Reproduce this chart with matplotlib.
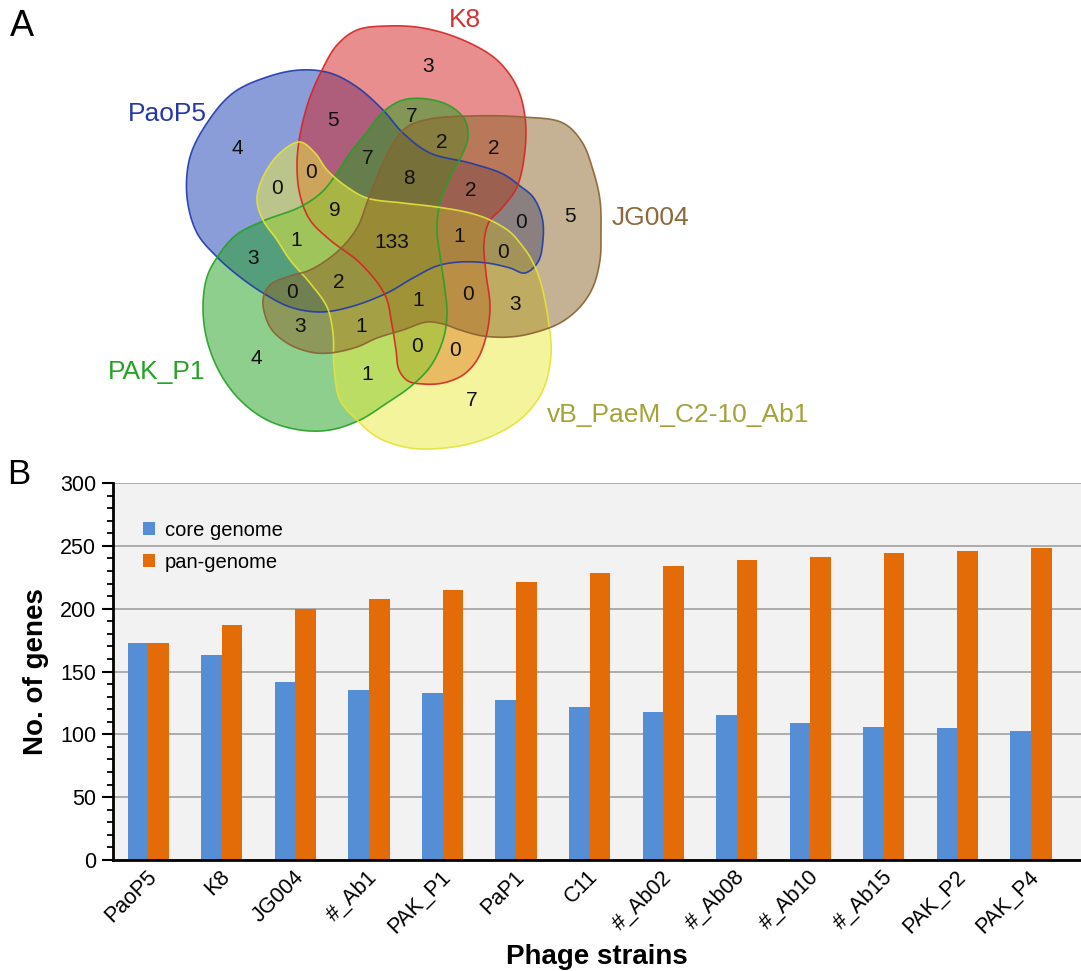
import numpy as np
import matplotlib
matplotlib.use("Agg")
import matplotlib.pyplot as plt
from matplotlib.patches import Polygon
from matplotlib.transforms import ScaledTranslation

plt.rcParams['font.family'] = ['Liberation Sans', 'DejaVu Sans']

# ---- data: panel B ----
strains = ['PaoP5', 'K8', 'JG004', '#_Ab1', 'PAK_P1', 'PaP1', 'C11',
           '#_Ab02', '#_Ab08', '#_Ab10', '#_Ab15', 'PAK_P2', 'PAK_P4']
core = [173, 163, 142, 135, 133, 127, 122, 118, 115, 109, 106, 105, 103]
pan = [173, 187, 200, 208, 215, 221, 228, 234, 239, 241, 244, 246, 248]

# ---- data: panel A (region counts) ----
set_names = ['PaoP5', 'K8', 'PAK_P1', 'vB_PaeM_C2-10_Ab1', 'JG004']
counts = [4, 3, 5, 4, 7,
          5, 7, 2, 2, 7, 8, 2, 0,
          0, 0, 9, 1, 3, 133, 1, 0,
          2, 0, 3, 1, 1, 0, 3,
          0, 0, 1]

# layout of panel A in pixel coordinates (outline knots, label spots)
count_xy = [(237, 148), (428, 66), (570, 217), (256, 358), (472, 400),
            (333, 120), (412, 116), (442, 143), (494, 148), (368, 158), (409, 178), (471, 190), (521, 223),
            (277, 189), (311, 173), (335, 211), (296, 241), (253, 258), (392, 243), (459, 237), (503, 253),
            (339, 283), (292, 293), (300, 327), (361, 327), (418, 301), (468, 294), (515, 304),
            (417, 347), (455, 351), (367, 375)]

outlines = {
    'PaoP5': [(300, 70), (267, 77), (233, 93), (207, 123), (190, 157), (187, 197), (197, 233), (217, 257),
              (240, 277), (263, 293), (290, 307), (320, 312), (350, 307), (387, 293), (413, 278), (437, 266),
              (460, 262), (487, 263), (510, 268), (525, 273), (538, 262), (543, 240), (542, 217), (533, 197),
              (520, 186), (503, 174), (470, 163), (430, 153), (403, 133), (383, 110), (357, 87), (330, 73)],
    'K8': [(357, 30), (387, 26), (423, 28), (463, 40), (497, 60), (517, 87), (525, 117), (525, 150),
           (517, 187), (502, 208), (489, 222), (484, 243), (486, 273), (490, 307), (486, 337), (477, 360),
           (463, 375), (443, 383), (423, 384), (408, 381), (399, 370), (396, 350), (392, 325), (385, 295),
           (360, 263), (330, 240), (310, 220), (300, 195), (297, 165), (300, 135), (309, 100), (322, 70),
           (337, 45)],
    'PAK_P1': [(203, 307), (207, 277), (218, 256), (236, 235), (263, 221), (300, 207), (322, 192), (337, 173),
               (350, 153), (367, 132), (383, 112), (403, 100), (427, 99), (450, 106), (465, 120), (468, 137),
               (462, 155), (450, 177), (440, 203), (437, 230), (441, 262), (445, 290), (447, 315), (443, 340),
               (430, 367), (410, 387), (387, 403), (360, 420), (330, 430), (300, 430), (267, 420), (240, 400),
               (220, 373), (207, 340)],
    'vB_PaeM_C2-10_Ab1': [(300, 142), (280, 153), (263, 177), (257, 200), (263, 220), (277, 240), (290, 260),
                          (310, 283), (327, 307), (333, 333), (334, 367), (340, 400), (357, 420), (377, 437),
                          (410, 448), (453, 447), (490, 437), (523, 417), (543, 390), (551, 355), (549, 325),
                          (540, 280), (530, 257), (520, 243), (510, 232), (490, 220), (470, 213), (437, 207),
                          (403, 203), (367, 198), (347, 187), (327, 170), (315, 153)],
    'JG004': [(263, 300), (270, 285), (290, 276), (310, 270), (337, 252), (357, 228), (368, 200), (380, 170),
              (392, 145), (407, 127), (430, 119), (470, 116), (523, 117), (563, 123), (582, 142), (593, 170),
              (600, 200), (601, 233), (600, 260), (593, 287), (580, 307), (560, 323), (533, 333), (510, 337),
              (483, 336), (460, 330), (443, 324), (427, 322), (403, 330), (377, 338), (357, 347), (330, 353),
              (310, 352), (287, 343), (270, 327)],
}
fills = {'PaoP5': '#193cb4', 'K8': '#d21e1e', 'PAK_P1': '#1ea01e',
         'vB_PaeM_C2-10_Ab1': '#ebeb3c', 'JG004': '#8c6428'}
edges = {'PaoP5': '#1f3aa8', 'K8': '#d42525', 'PAK_P1': '#25a025',
         'vB_PaeM_C2-10_Ab1': '#e3e33a', 'JG004': '#8a6232'}
name_xy = {'PaoP5': (167, 114), 'K8': (465, 20), 'PAK_P1': (157, 372),
           'vB_PaeM_C2-10_Ab1': (678, 415), 'JG004': (650, 218)}
name_col = {'PaoP5': '#2438a8', 'K8': '#d33434', 'PAK_P1': '#26a326',
            'vB_PaeM_C2-10_Ab1': '#a3a33a', 'JG004': '#8d6a3c'}


def closed_spline(pts, n=16):
    # centripetal catmull-rom through the knots
    p = np.asarray(pts, float)
    N = len(p)
    out = []
    for i in range(N):
        p0, p1, p2, p3 = p[i - 1], p[i], p[(i + 1) % N], p[(i + 2) % N]
        t0 = 0.0
        t1 = t0 + np.linalg.norm(p1 - p0) ** 0.5
        t2 = t1 + np.linalg.norm(p2 - p1) ** 0.5
        t3 = t2 + np.linalg.norm(p3 - p2) ** 0.5
        t = np.linspace(t1, t2, n, endpoint=False)[:, None]
        a1 = (t1 - t) / (t1 - t0) * p0 + (t - t0) / (t1 - t0) * p1
        a2 = (t2 - t) / (t2 - t1) * p1 + (t - t1) / (t2 - t1) * p2
        a3 = (t3 - t) / (t3 - t2) * p2 + (t - t2) / (t3 - t2) * p3
        b1 = (t2 - t) / (t2 - t0) * a1 + (t - t0) / (t2 - t0) * a2
        b2 = (t3 - t) / (t3 - t1) * a2 + (t - t1) / (t3 - t1) * a3
        out.append((t2 - t) / (t2 - t1) * b1 + (t - t1) / (t2 - t1) * b2)
    return np.vstack(out)


fig = plt.figure(figsize=(10.81, 9.71), dpi=100)

# panel A
av = fig.add_axes([0, 0, 1, 1])
av.set_xlim(0, 1081)
av.set_ylim(971, 0)
av.axis('off')

for s in ['PaoP5', 'K8', 'PAK_P1', 'vB_PaeM_C2-10_Ab1', 'JG004']:
    xy = closed_spline(outlines[s])
    av.add_patch(Polygon(xy, closed=True, facecolor=fills[s], alpha=0.5, edgecolor='none'))
for s in ['PaoP5', 'K8', 'PAK_P1', 'vB_PaeM_C2-10_Ab1', 'JG004']:
    xy = closed_spline(outlines[s])
    av.add_patch(Polygon(xy, closed=True, facecolor='none', edgecolor=edges[s], lw=1.2, alpha=0.9))
    av.text(*name_xy[s], s, color=name_col[s], fontsize=19, ha='center', va='center')

for c, (x, y) in zip(counts, count_xy):
    av.text(x, y, str(c), fontsize=15, ha='center', va='center', color='#111111')

av.text(22, 27, 'A', fontsize=26, ha='center', va='center')
av.text(19, 475, 'B', fontsize=25, ha='center', va='center')

# panel B
ax = fig.add_axes([113 / 1081, 111 / 971, 968 / 1081, 377 / 971])
ax.set_facecolor('#f2f2f2')
x = np.arange(len(strains))
w = 0.28
ax.bar(x - w / 2, core, w, color='#558ed5', label='core genome', zorder=3)
ax.bar(x + w / 2, pan, w, color='#e36c09', label='pan-genome', zorder=3)

ax.set_xlim(-0.48, 12.68)
ax.set_ylim(0, 300)
ax.set_yticks(range(0, 301, 50))
ax.set_yticks(range(0, 301, 10), minor=True)
ax.yaxis.grid(True, which='major', color='#a0a0a0', lw=1.2, zorder=0)
ax.set_axisbelow(True)
for side in ['top', 'right']:
    ax.spines[side].set_visible(False)
ax.spines['left'].set_linewidth(2)
ax.spines['bottom'].set_linewidth(2)
ax.spines['bottom'].set_zorder(4)
ax.tick_params(axis='y', which='major', length=8, width=1.5, labelsize=15.5, pad=4)
ax.tick_params(axis='y', which='minor', length=4, width=1.3)
ax.tick_params(axis='x', length=0, pad=10, labelsize=15.5)
ax.set_xticks(x)
ax.set_xticklabels(strains, rotation=45, ha='right', va='center', rotation_mode='anchor')
for lbl in ax.get_xticklabels():
    lbl.set_transform(lbl.get_transform() + ScaledTranslation(0.05, 0, fig.dpi_scale_trans))

ax.set_ylabel('No. of genes', fontsize=20, fontweight='bold', labelpad=8)
ax.set_xlabel('Phage strains', fontsize=20, fontweight='bold', labelpad=5)

ax.legend(loc='upper left', bbox_to_anchor=(0.031, 0.9), frameon=False, fontsize=14.5,
          handlelength=0.6, handleheight=0.6, handletextpad=0.5, labelspacing=0.65,
          borderpad=0, borderaxespad=0)

fig.savefig('out.png', dpi=100)
